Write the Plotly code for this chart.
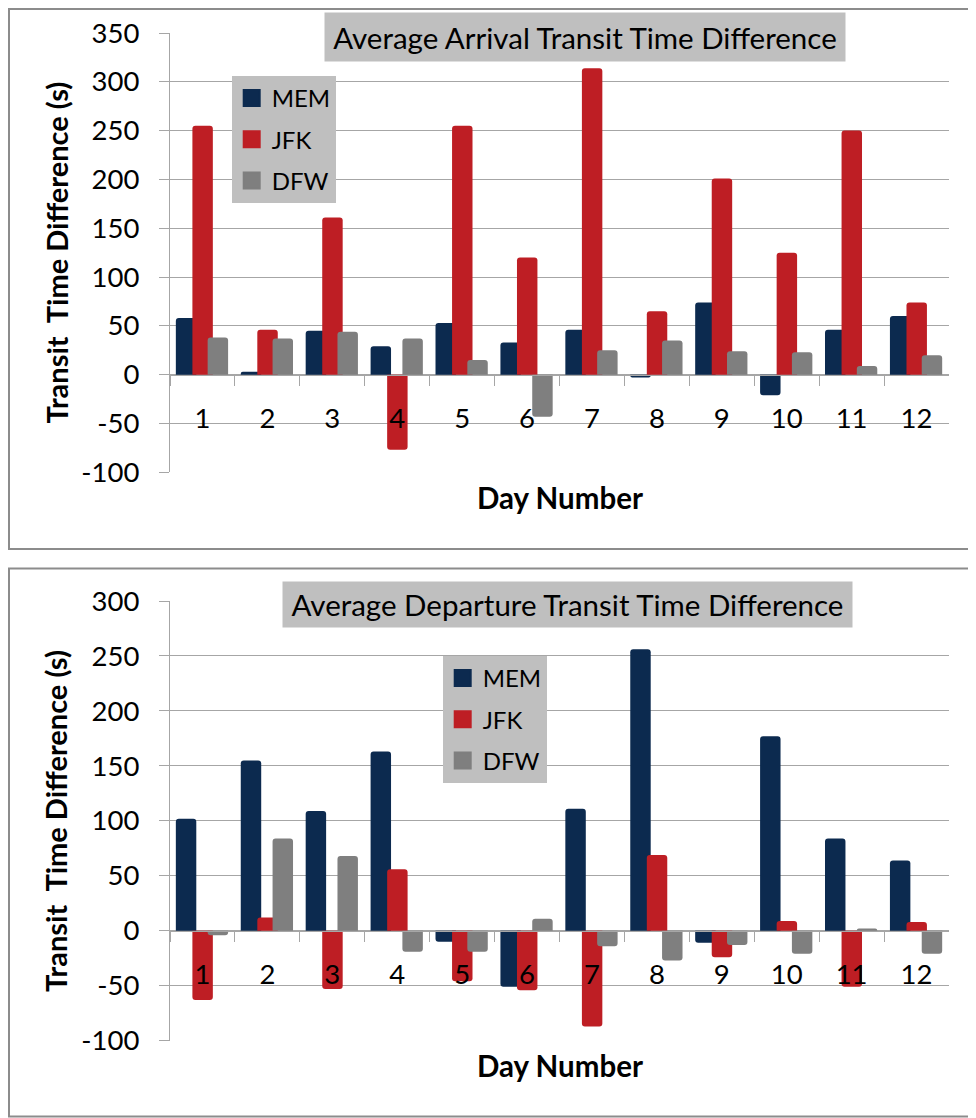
import plotly.graph_objects as go

# ---------------- data ----------------
days = [str(i) for i in range(1, 13)]
series_names = ["MEM", "JFK", "DFW"]

arr_mem = [58, 3, 45, 29, 53, 33, 46, -3, 74, -21, 46, 60]
arr_jfk = [255, 46, 161, -77, 255, 120, 314, 65, 201, 125, 250, 74]
arr_dfw = [38, 37, 44, 37, 15, -43, 25, 35, 24, 23, 9, 20]

dep_mem = [102, 155, 109, 163, -10, -51, 111, 256, -11, 177, 84, 64]
dep_jfk = [-63, 12, -53, 56, -46, -54, -87, 69, -24, 9, -51, 8]
dep_dfw = [-4, 84, 68, -19, -19, 11, -14, -27, -13, -21, 2, -21]

arr_yticks = [-100, -50, 0, 50, 100, 150, 200, 250, 300, 350]
dep_yticks = [-100, -50, 0, 50, 100, 150, 200, 250, 300]
arr_ytext = ["-100", "-50", "0", "50", "100", "150", "200", "250", "300", "350"]
dep_ytext = ["-100", "-50", "0", "50", "100", "150", "200", "250", "300"]

arr_title = "Average Arrival Transit Time Difference"
dep_title = "Average Departure Transit Time Difference"
y_title = "Transit\u00a0 Time Difference (s)"
x_title = "Day Number"

# ---------------- style ----------------
# the page body has an 8px margin, so the figure is sized to fit the window
OFF = 8
W, H = 976 - OFF, 1118 - OFF
COLORS = {"MEM": "#0c2a4f", "JFK": "#be1e24", "DFW": "#7f7f7f"}
OFFSETS = {"MEM": -0.41, "JFK": -0.155, "DFW": 0.08}
BAR_W = 0.315
GRID = "#a6a6a6"
BOXBG = "#bfbfbf"
FONT = "Lato"
TICK_SIZE = 27.5


def fx(px):
    return (px - OFF) / W


def fy(py):
    return 1 - (py - OFF) / H


fig = go.Figure()

panels = [
    ("x", "y", "legend", [arr_mem, arr_jfk, arr_dfw]),
    ("x2", "y2", "legend2", [dep_mem, dep_jfk, dep_dfw]),
]

for xa, ya, lg, vals in panels:
    for name, v in zip(series_names, vals):
        fig.add_trace(go.Bar(
            x=days, y=v, name=name, xaxis=xa, yaxis=ya,
            offset=OFFSETS[name], width=BAR_W,
            marker=dict(color=COLORS[name], line=dict(width=0)),
            showlegend=False, hoverinfo="x+y+name",
        ))
    for name in series_names:
        fig.add_trace(go.Scatter(
            x=[None], y=[None], mode="markers", name=name,
            xaxis=xa, yaxis=ya, legend=lg, legendgroup=lg + name,
            marker=dict(symbol="square", size=16, color=COLORS[name],
                        line=dict(width=2, color=COLORS[name])),
        ))

# axis geometry (pixels of the reference picture)
top_dom = [fy(472.3), fy(33)]
bot_dom = [fy(1040.7), fy(601)]
top_rng = [-100, 350]
bot_rng = [-100, 300]


def zero_pos(dom, rng):
    frac = (0 - rng[0]) / (rng[1] - rng[0])
    return dom[0] + frac * (dom[1] - dom[0])


xcommon = dict(
    domain=[fx(170), fx(949)], type="category", anchor="free",
    range=[-0.5, 11.5], showline=True, linecolor=GRID, linewidth=1.2,
    ticks="outside", ticklen=10, tickcolor=GRID, tickwidth=1.2,
    tickson="boundaries", showgrid=False, zeroline=False,
    tickfont=dict(family=FONT, size=TICK_SIZE, color="black"),
    ticklabelstandoff=19, fixedrange=True, automargin=False,
)
ycommon = dict(
    tickmode="array", showgrid=True, gridcolor=GRID, gridwidth=1.2,
    showline=True, linecolor=GRID, linewidth=1.2, ticks="outside",
    ticklen=10, tickcolor=GRID, tickwidth=1.2, zeroline=False,
    tickfont=dict(family=FONT, size=TICK_SIZE, color="black"),
    ticklabelstandoff=14, fixedrange=True, automargin=False,
)

legcommon = dict(
    bgcolor=BOXBG, borderwidth=0, xanchor="left", yanchor="top",
    font=dict(family=FONT, size=24, color="black"),
    tracegroupgap=7, itemwidth=30, orientation="v",
)

fig.update_layout(
    template="none",
    width=W, height=H, margin=dict(l=0, r=0, t=0, b=0, pad=0, autoexpand=False),
    paper_bgcolor="white", plot_bgcolor="white",
    barmode="overlay", barcornerradius=3,
    xaxis=dict(**xcommon, position=zero_pos(top_dom, top_rng)),
    yaxis=dict(**ycommon, domain=top_dom, range=top_rng, anchor="x",
               tickvals=arr_yticks, ticktext=arr_ytext),
    xaxis2=dict(**xcommon, position=zero_pos(bot_dom, bot_rng)),
    yaxis2=dict(**ycommon, domain=bot_dom, range=bot_rng, anchor="x2",
                tickvals=dep_yticks, ticktext=dep_ytext),
    legend=dict(**legcommon, x=fx(231.7), y=fy(76)),
    legend2=dict(**legcommon, x=fx(442.7), y=fy(656)),
    showlegend=True,
)

annotations = [
    dict(text=arr_title, x=fx(585), y=fy(37), width=516, height=44,
         font=dict(family=FONT, size=29.5, color="black")),
    dict(text=dep_title, x=fx(567.2), y=fy(604.3), width=565, height=41,
         font=dict(family=FONT, size=29.5, color="black")),
    dict(text=y_title, x=fx(56), y=fy(252.5), textangle=-90,
         font=dict(family=FONT, size=29, color="black", weight="bold")),
    dict(text=y_title, x=fx(56), y=fy(820.9), textangle=-90,
         font=dict(family=FONT, size=29, color="black", weight="bold")),
    dict(text=x_title, x=fx(559.5), y=fy(498),
         font=dict(family=FONT, size=29.5, color="black", weight="bold")),
    dict(text=x_title, x=fx(559.5), y=fy(1065),
         font=dict(family=FONT, size=29.5, color="black", weight="bold")),
]
for a in annotations:
    a.update(xref="paper", yref="paper", showarrow=False,
             xanchor="center", yanchor="middle")
    if "width" in a:
        a.update(bgcolor=BOXBG, borderpad=2)
fig.update_layout(annotations=annotations)

fig.update_layout(shapes=[
    dict(type="rect", xref="paper", yref="paper", x0=fx(9), x1=1.05,
         y0=fy(549), y1=fy(9), line=dict(color="#8c8c8c", width=2),
         layer="below"),
    dict(type="rect", xref="paper", yref="paper", x0=fx(9), x1=1.05,
         y0=fy(1116.5), y1=fy(568.5), line=dict(color="#8c8c8c", width=2),
         layer="below"),
])

fig.write_html("out.html")
